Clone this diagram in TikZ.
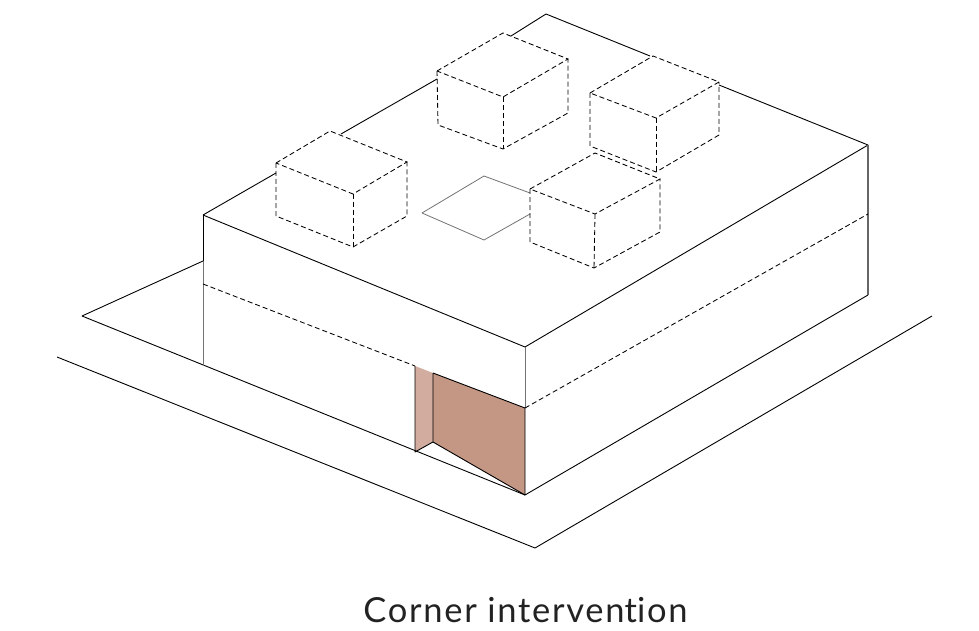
\documentclass[tikz,border=0pt]{standalone}
\usepackage{fontspec}
\setmainfont{Lato}[LetterSpace=5]
\definecolor{darkshade}{HTML}{C49684}
\definecolor{lightshade}{HTML}{D2AC9E}
\definecolor{captionink}{HTML}{222222}
\tikzset{
  solid line/.style={draw=black,line width=0.9pt,line join=round},
  grey line/.style={draw=black!55,line width=0.8pt,line join=round},
  thick grey line/.style={draw=black!60,line width=1.2pt},
  dash line/.style={draw=black,line width=0.85pt,dash pattern=on 5pt off 3pt}
}
\newcommand{\cubeshape}[7]{%
  \draw[dash line] #1 -- #2 -- #3 -- #4 -- cycle;
  \draw[dash line] #1 -- #5 -- #6 -- #7 -- #3;
  \draw[dash line] #4 -- #6;
}
\begin{document}
\begin{tikzpicture}[x=1pt,y=-1pt]
\useasboundingbox (0,0) rectangle (979,631);
\fill[white] (0,0) rectangle (979,631);
% shaded recess
\fill[lightshade] (415,366) -- (433,373) -- (433,442) -- (415,452) -- cycle;
\fill[darkshade] (433,373) -- (525,408) -- (525,495) -- (433,442) -- cycle;
\draw[solid line] (415,366) -- (415,452) -- (433,442) -- (433,373);
\draw[solid line] (433,442) -- (525,495);
\draw[solid line] (433,373) -- (525,408);
% ground
\draw[solid line] (57,357) -- (535,548) -- (932,316);
\draw[solid line] (203,261) -- (82,316) -- (525,495);
% roof outline with parts hidden behind the boxes
\draw[solid line] (203,215) -- (276,173);
\draw[solid line] (341,134) -- (437,79);
\draw[solid line] (511,36) -- (546,14) -- (650,56);
\draw[solid line] (719,85) -- (868,145) -- (525,347) -- (203,215);
% verticals
\draw[solid line] (203,215) -- (203,261);
\draw[grey line] (203,261) -- (203,366);
\draw[grey line] (525,347) -- (525,408);
\draw[solid line] (525,408) -- (525,495) -- (868,295);
\draw[thick grey line] (868,145) -- (868,295);
% floor line
\draw[dash line] (203,284) -- (415,366);
\draw[dash line] (525,408) -- (868,214);
% skylight
\draw[grey line] (530,193) -- (484,176) -- (422,213) -- (484,240) -- (530,214);
% boxes
\cubeshape{(437,71)}{(503,33)}{(568,59)}{(503,97)}{(438,125)}{(503,149)}{(568,113)}
\cubeshape{(590,93)}{(653,56)}{(719,82)}{(656,118)}{(590,146)}{(656,172)}{(719,135)}
\cubeshape{(530,189)}{(595,153)}{(660,179)}{(595,214)}{(530,242)}{(594,268)}{(660,232)}
\cubeshape{(276,163)}{(330,131)}{(407,162)}{(353,194)}{(276,216)}{(353,247)}{(407,216)}
\node[inner sep=0pt,anchor=base,text=captionink,font=\fontsize{34.5}{40}\selectfont] (caption) at (525.5,622) {Corner interven\kern0pt t\kern0pt ion};
\end{tikzpicture}
\end{document}
